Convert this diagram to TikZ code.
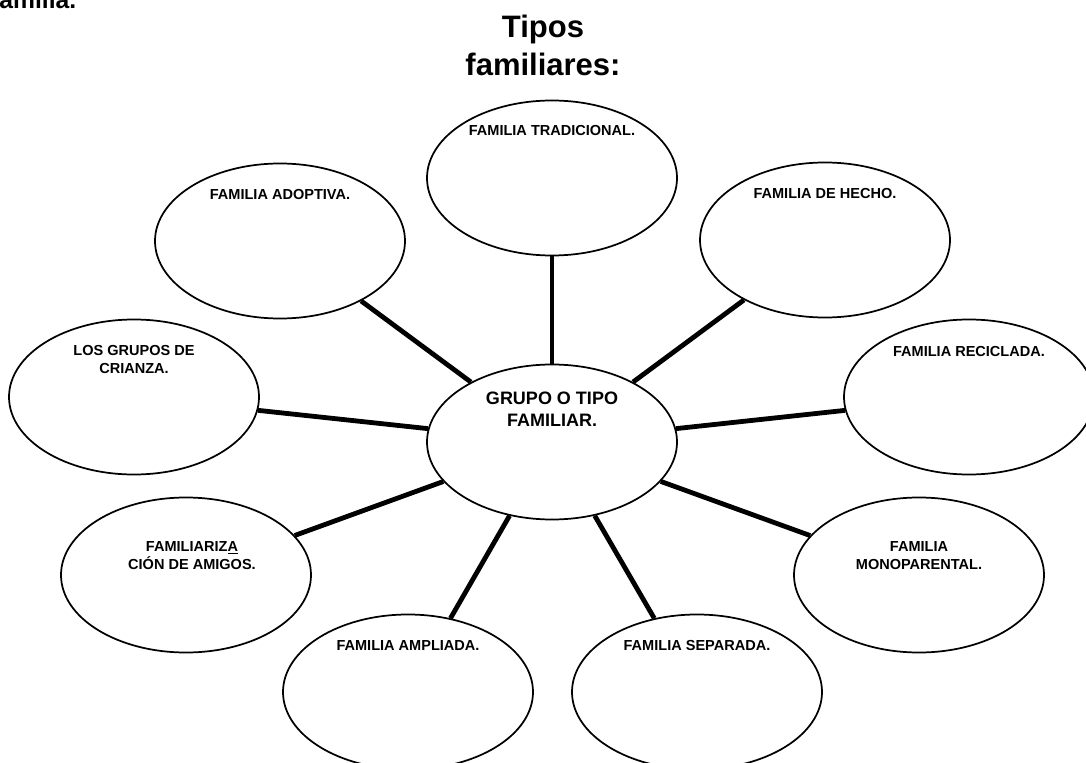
\documentclass[tikz,border=0pt]{standalone}
\usepackage{fontspec}
\setmainfont{Liberation Sans}
\usetikzlibrary{shapes.geometric,calc}
\tikzset{
  bub/.style={ellipse, draw=black, line width=1.3pt, fill=white, minimum width=250*0.75pt, minimum height=155*0.75pt, inner sep=0pt},
  txt/.style={align=center, inner sep=0pt, font=\bfseries\fontsize{10.9pt}{13.5pt}\selectfont},
  bigtxt/.style={align=center, inner sep=0pt, font=\bfseries\fontsize{13.5pt}{16.5pt}\selectfont},
  link/.style={line width=3.6pt, black}
}
\begin{document}
\begin{tikzpicture}[x=0.75pt, y=-0.75pt]
\useasboundingbox (0,0) rectangle (1086,763);
\clip (0,0) rectangle (1086,763);
% partially visible heading
\node[anchor=base west, inner sep=0pt, font=\bfseries\fontsize{18.5pt}{22pt}\selectfont] (prev) at (-9,9) {familia.};
% title
\node[align=center, inner sep=0pt, font=\bfseries\fontsize{23.25pt}{28.5pt}\selectfont] (title) at (543,45) {Tipos\\familiares:};
% ellipses
\node[bub] (center) at (552,442) {};
\node[bub] (trad) at (552,178) {};
\node[bub] (hecho) at (825,240) {};
\node[bub] (adopt) at (280,241) {};
\node[bub] (recic) at (969,397) {};
\node[bub] (crianza) at (134,397) {};
\node[bub] (amigos) at (186,575) {};
\node[bub] (mono) at (919,575) {};
\node[bub] (ampl) at (408,692) {};
\node[bub] (sep) at (697,692) {};
% connectors
\foreach \n in {trad,hecho,adopt,recic,crianza,amigos,mono,ampl,sep}
  \draw[link] (center) -- (\n);
% texts
\node[bigtxt] (tcenter) at ($(center.north)+(0,46)$) {GRUPO O TIPO\\FAMILIAR.};
\node[txt] (ttrad) at ($(trad.north)+(0,31)$) {FAMILIA TRADICIONAL.};
\node[txt] (thecho) at ($(hecho.north)+(0,32)$) {FAMILIA DE HECHO.};
\node[txt] (tadopt) at ($(adopt.north)+(0,32)$) {FAMILIA ADOPTIVA.};
\node[txt] (trecic) at ($(recic.north)+(0,33)$) {FAMILIA RECICLADA.};
\node[txt] (tcrianza) at ($(crianza.north)+(0,41)$) {LOS GRUPOS DE\\CRIANZA.};
\node[txt] (tamigos) at ($(amigos.north)+(6,59)$) {FAMILIARIZ\underline{A}\\CIÓN DE AMIGOS.};
\node[txt] (tmono) at ($(mono.north)+(0,59)$) {FAMILIA\\MONOPARENTAL.};
\node[txt] (tampl) at ($(ampl.north)+(0,32)$) {FAMILIA AMPLIADA.};
\node[txt] (tsep) at ($(sep.north)+(0,32)$) {FAMILIA SEPARADA.};
\end{tikzpicture}
\end{document}
